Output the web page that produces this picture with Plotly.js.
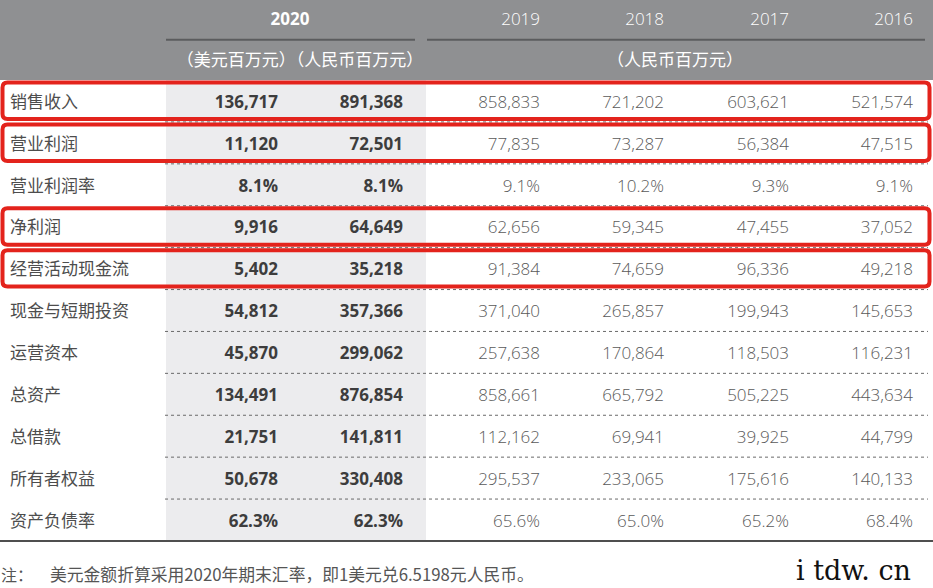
<!DOCTYPE html>
<html>
<head>
<meta charset="utf-8">
<script src="https://cdn.plot.ly/plotly-3.0.1.min.js"></script>
<style>
  html, body { margin: 0; padding: 0; background: #fff; }
  #chart { width: 933px; height: 588px; }
</style>
</head>
<body>
<div id="chart"></div>
<script>
// table data
const labels = ["销售收入", "营业利润", "营业利润率", "净利润", "经营活动现金流", "现金与短期投资",
                "运营资本", "总资产", "总借款", "所有者权益", "资产负债率"];
const usd2020 = ["136,717", "11,120", "8.1%", "9,916", "5,402", "54,812", "45,870", "134,491", "21,751", "50,678", "62.3%"];
const rmb2020 = ["891,368", "72,501", "8.1%", "64,649", "35,218", "357,366", "299,062", "876,854", "141,811", "330,408", "62.3%"];
const v2019 = ["858,833", "77,835", "9.1%", "62,656", "91,384", "371,040", "257,638", "858,661", "112,162", "295,537", "65.6%"];
const v2018 = ["721,202", "73,287", "10.2%", "59,345", "74,659", "265,857", "170,864", "665,792", "69,941", "233,065", "65.0%"];
const v2017 = ["603,621", "56,384", "9.3%", "47,455", "96,336", "199,943", "118,503", "505,225", "39,925", "175,616", "65.2%"];
const v2016 = ["521,574", "47,515", "9.1%", "37,052", "49,218", "145,653", "116,231", "443,634", "44,799", "140,133", "68.4%"];
const pastYears = ["2019", "2018", "2017", "2016"];
const highlighted = [0, 1, 3, 4];
const note = "美元金额折算采用2020年期末汇率，即1美元兑6.5198元人民币。";

// layout constants (x in px, y in row units)
const colRight = { usd: 278, rmb: 403, past: [540, 664, 789, 913] };
const FONT = "Open Sans, Noto Sans CJK SC, sans-serif";
const CJK = "Noto Sans CJK SC, Open Sans, sans-serif";
const nRows = labels.length;
const rowY = labels.map((_, i) => i + 0.06);   // small nudge: glyphs sit a touch low in the source

function textTrace(x, y, text, pos, opts){
  return {
    type: "scatter", mode: "text",
    x: Array.isArray(x) ? x : y.map(() => x), y, text,
    textposition: pos,
    textfont: Object.assign({ family: FONT, size: 17, color: "#595959", weight: 300 }, opts || {}),
    hoverinfo: "skip", showlegend: false, cliponaxis: false
  };
}

function roundRect(x0, x1, y0, y1, rx, ry){
  return `M${x0+rx},${y0} L${x1-rx},${y0} Q${x1},${y0} ${x1},${y0+ry} L${x1},${y1-ry} Q${x1},${y1} ${x1-rx},${y1}` +
         ` L${x0+rx},${y1} Q${x0},${y1} ${x0},${y1-ry} L${x0},${y0+ry} Q${x0},${y0} ${x0+rx},${y0} Z`;
}

const traces = [
  textTrace(10, rowY, labels, "middle right", { family: CJK, color: "#4d4d4d", weight: "normal" }),
  textTrace(colRight.usd, rowY, usd2020, "middle left", { color: "#3d3d3d", weight: "bold" }),
  textTrace(colRight.rmb, rowY, rmb2020, "middle left", { color: "#3d3d3d", weight: "bold" }),
  textTrace(colRight.past[0], rowY, v2019, "middle left"),
  textTrace(colRight.past[1], rowY, v2018, "middle left"),
  textTrace(colRight.past[2], rowY, v2017, "middle left"),
  textTrace(colRight.past[3], rowY, v2016, "middle left"),
  // header row
  textTrace([290], [-1.91], ["2020"], "middle center", { color: "#ffffff", weight: "bold" }),
  textTrace(colRight.past, pastYears.map(() => -1.91), pastYears, "middle left", { color: "#ffffff" }),
  textTrace([300], [-0.93], ["（美元百万元）（人民币百万元）"], "middle center", { family: CJK, color: "#ffffff", weight: "normal" }),
  textTrace([675], [-0.93], ["（人民币百万元）"], "middle center", { family: CJK, color: "#ffffff", weight: "normal" }),
  textTrace([1], [11.36], ["注："], "middle right", { family: CJK, size: 16, color: "#555555", weight: "normal" }),
  textTrace([50], [11.36], [note], "middle right", { family: CJK, size: 16.8, color: "#555555", weight: "normal" }),
  textTrace([796], [11.26], ["i tdw. cn"], "middle right", { family: "DejaVu Serif, Liberation Serif, serif", size: 27, color: "#111111", weight: "normal" })
];

const shapes = [
  // header band
  { type: "rect", xref: "x", yref: "y", x0: 0, x1: 933, y0: -2.45, y1: -0.5, fillcolor: "#8f9092", line: { width: 0 }, layer: "below" },
  // shaded 2020 columns
  { type: "rect", xref: "x", yref: "y", x0: 166, x1: 426, y0: -0.5, y1: nRows - 0.5, fillcolor: "#ececee", line: { width: 0 }, layer: "below" },
  // header rules
  { type: "line", xref: "x", yref: "y", x0: 166, x1: 415, y0: -1.46, y1: -1.46, line: { color: "#5b5c5e", width: 2 } },
  { type: "line", xref: "x", yref: "y", x0: 427, x1: 925, y0: -1.46, y1: -1.46, line: { color: "#5b5c5e", width: 2 } },
  // bottom rule
  { type: "line", xref: "x", yref: "y", x0: 0, x1: 933, y0: nRows - 0.5, y1: nRows - 0.5, line: { color: "#4f4f4f", width: 2 } }
];

for(let i = 0; i < nRows - 1; i++){
  shapes.push({ type: "line", xref: "x", yref: "y", x0: 165, x1: 928, y0: i + 0.5, y1: i + 0.5,
                line: { color: "#6a6a6a", width: 1, dash: "3px,3px" } });
}

highlighted.forEach(i => {
  shapes.push({ type: "path", xref: "x", yref: "y", path: roundRect(2.5, 929.5, i - 0.44, i + 0.43, 5, 0.12),
                line: { color: "#e3231c", width: 4 } });
});

Plotly.newPlot("chart", traces, {
  width: 933, height: 588,
  margin: { l: 0, r: 0, t: 0, b: 0 },
  paper_bgcolor: "#ffffff", plot_bgcolor: "#ffffff",
  xaxis: { range: [0, 933], visible: false, fixedrange: true },
  yaxis: { range: [(588 - 101) / 41.9, (0 - 101) / 41.9], visible: false, fixedrange: true },
  shapes,
  showlegend: false
}, { displayModeBar: false, staticPlot: true });
</script>
</body>
</html>
